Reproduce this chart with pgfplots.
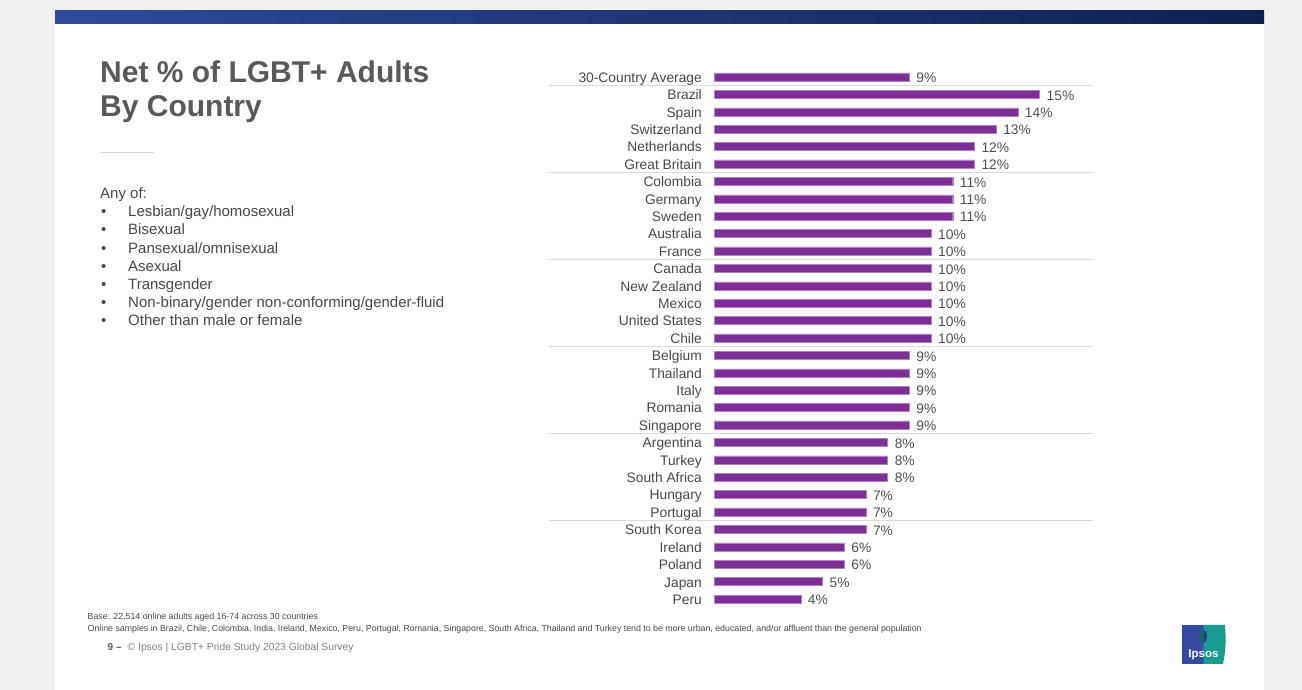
\documentclass[border=0pt]{standalone}
\usepackage{fontspec}
\setmainfont{Liberation Sans}
\usepackage{pgfplots}
\pgfplotsset{compat=1.18}
\definecolor{bggray}{RGB}{240,240,240}
\definecolor{bandL}{RGB}{46,75,157}
\definecolor{bandR}{RGB}{14,33,78}
\definecolor{titlegray}{RGB}{89,89,89}
\definecolor{txtgray}{RGB}{72,72,72}
\definecolor{valgray}{RGB}{80,80,80}
\definecolor{barpurple}{RGB}{127,45,151}
\definecolor{sepgray}{RGB}{217,217,217}
\definecolor{footgray}{RGB}{128,128,128}
\definecolor{ipsblue}{RGB}{55,75,165}
\definecolor{ipsteal}{RGB}{25,155,143}
\newcommand\lab{\fontsize{13.8}{16}\selectfont}
\newcommand\bul[2]{\node at (101,#1) {•};\node at (128,#1) {#2};}
\begin{document}
\begin{tikzpicture}
\begin{scope}[x=1pt,y=1pt]
\path[use as bounding box] (0,0) rectangle (1302,690);
\fill[bggray] (0,0) rectangle (1302,690);
\fill[white] (55,0) rectangle (1264,666);
\shade[left color=bandL,right color=bandR] (55,666) rectangle (1264,679);
% title
\node[anchor=base west,inner sep=0pt,text=titlegray,font=\fontsize{30}{34}\selectfont\bfseries] at (100,607) {Net \% of LGBT+ Adults};
\node[anchor=base west,inner sep=0pt,text=titlegray,font=\fontsize{30}{34}\selectfont\bfseries] at (100,573) {By Country};
\draw[sepgray,line width=1pt] (100,537.3) -- (154,537.3);
% list
\begin{scope}[every node/.style={anchor=base west,inner sep=0pt,text=txtgray,font=\fontsize{15}{18}\selectfont}]
\node at (100,491.5) {Any of:};
\bul{473.3}{Lesbian/gay/homosexual}
\bul{455.1}{Bisexual}
\bul{436.9}{Pansexual/omnisexual}
\bul{418.8}{Asexual}
\bul{400.6}{Transgender}
\bul{382.4}{Non-binary/gender non-conforming/gender-fluid}
\bul{364.2}{Other than male or female}
\end{scope}
% footnotes
\begin{scope}[every node/.style={anchor=base west,inner sep=0pt,text=txtgray,font=\fontsize{8.8}{10}\selectfont}]
\node at (87.5,70.5) {Base: 22,514 online adults aged 16-74 across 30 countries};
\node at (87.5,58.7) {Online samples in Brazil, Chile, Colombia, India, Ireland, Mexico, Peru, Portugal, Romania, Singapore, South Africa, Thailand and Turkey tend to be more urban, educated, and/or affluent than the general population};
\end{scope}
\node[anchor=base west,inner sep=0pt,text=titlegray,font=\fontsize{10}{12}\selectfont\bfseries] at (107.5,39) {9 –};
\node[anchor=base west,inner sep=0pt,text=footgray,font=\fontsize{10.3}{12}\selectfont] at (127.5,39) {© Ipsos | LGBT+ Pride Study 2023 Global Survey};
% logo
\fill[ipsblue] (1182,26) rectangle (1203.5,65);
\fill[ipsteal] (1203.5,26) -- (1223,26) .. controls (1226,40) and (1226,52) .. (1225,65) -- (1203.5,65) -- cycle;
\fill[ipsteal!70!black] (1203.5,47) -- (1203.5,60) arc[start angle=90,end angle=270,x radius=4,y radius=6.5] -- cycle;
\fill[ipsblue!80!black] (1203.5,60) arc[start angle=90,end angle=-90,x radius=3.5,y radius=6.5] -- cycle;
\node[inner sep=0pt,text=white,font=\fontsize{11.5}{13}\selectfont\bfseries] at (1203.5,35) {Ipsos};
\end{scope}
% chart
\begin{axis}[
  at={(887.6pt,352pt)}, anchor=center,
  scale only axis, width=347.2pt, height=539.4pt,
  xbar, bar width=8pt,
  xmin=0, xmax=16, ymin=-0.5, ymax=30.5, y dir=reverse,
  axis line style={draw=none}, major tick length=0pt,
  xtick=\empty, ytick={0,...,30},
  yticklabels={30-Country Average,Brazil,Spain,Switzerland,Netherlands,Great Britain,Colombia,Germany,Sweden,Australia,France,Canada,New Zealand,Mexico,United States,Chile,Belgium,Thailand,Italy,Romania,Singapore,Argentina,Turkey,South Africa,Hungary,Portugal,South Korea,Ireland,Poland,Japan,Peru},
  yticklabel style={font=\lab, text=txtgray, anchor=base east, inner sep=0pt, xshift=-12pt, yshift=-5.4pt},
  /pgf/number format/assume math mode=true,
  point meta=x,
  nodes near coords={\pgfmathprintnumber{\pgfplotspointmeta}\%},
  every node near coord/.append style={font=\lab, text=valgray, anchor=base west, inner sep=0pt, xshift=7pt, yshift=-5.8pt},
  clip=false,
]
\pgfplotsinvokeforeach{0.5,5.5,10.5,15.5,20.5,25.5}{
  \draw[sepgray,line width=1pt] (axis cs:-7.6,#1) -- (axis cs:17.47,#1);
}
\addplot[fill=barpurple, draw=barpurple!60!white, line width=0.3pt] coordinates {
(9,0) (15,1) (14,2) (13,3) (12,4) (12,5) (11,6) (11,7) (11,8) (10,9) (10,10)
(10,11) (10,12) (10,13) (10,14) (10,15) (9,16) (9,17) (9,18) (9,19) (9,20)
(8,21) (8,22) (8,23) (7,24) (7,25) (7,26) (6,27) (6,28) (5,29) (4,30)};
\end{axis}
\end{tikzpicture}
\end{document}
